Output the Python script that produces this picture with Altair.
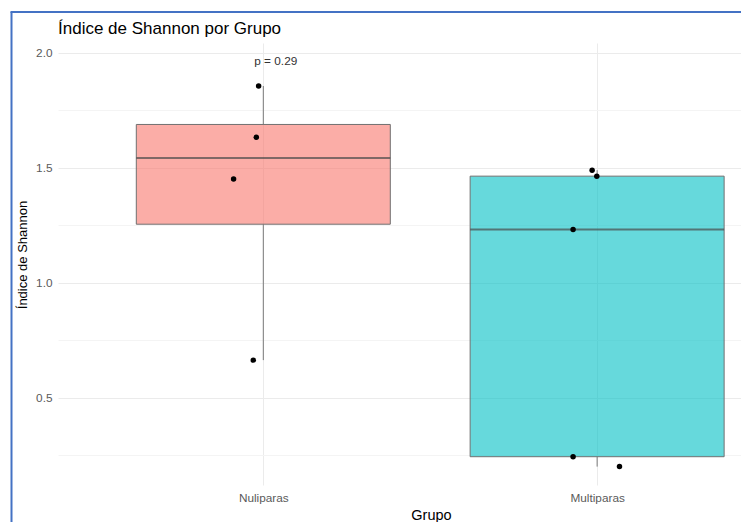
import altair as alt
import pandas as pd

# Shannon diversity per sample, by group
grupos = ["Nuliparas", "Multiparas"]
colores = ["#F8766D", "#00BFC4"]
grupo_muestra = ["Nuliparas"] * 4 + ["Multiparas"] * 5
shannon = [1.855, 1.632, 1.451, 0.663, 1.489, 1.463, 1.231, 0.243, 0.200]
desvio = [-0.014, -0.021, -0.089, -0.030, -0.015, -0.001, -0.072, -0.072, 0.067]
p_texto = ["p = 0.29"]
y_marcas = [0.25, 0.5, 0.75, 1.0, 1.25, 1.5, 1.75, 2.0]

FUENTE = "Liberation Sans"

df = pd.DataFrame({"grupo": grupo_muestra, "shannon": shannon, "desvio": desvio})
df["pos"] = df["grupo"].map({g: i + 1 for i, g in enumerate(grupos)})

x_scale = alt.Scale(domain=[0.4, 2.416], nice=False, zero=False)
y_scale = alt.Scale(domain=[0.12, 2.042], nice=False, zero=False)

x_axis = alt.Axis(
    values=[1, 2],
    labelExpr=f"['{grupos[0]}', '{grupos[1]}'][datum.value - 1]",
    grid=True, gridColor="#EBEBEB", gridWidth=1,
    domain=False, ticks=False, tickSize=0,
    labelPadding=16, labelBaseline="alphabetic", labelFontSize=11.8,
    labelColor="#5a5a5a", labelFont=FUENTE,
    title="Grupo", titleFontSize=14.5, titleFontWeight="normal", titleColor="#000000",
    titleFont=FUENTE, titleX=373, titleY=34.5, titleBaseline="alphabetic",
    titleAnchor="middle",
)
y_axis = alt.Axis(
    values=y_marcas,
    labelExpr="(datum.value * 4) % 2 == 1 ? '' : format(datum.value, '.1f')",
    grid=True,
    gridColor={"condition": {"test": "(datum.value * 4) % 2 == 1", "value": "#F4F4F4"},
               "value": "#EBEBEB"},
    gridWidth=1,
    domain=False, ticks=False, tickSize=0,
    labelPadding=6, labelFontSize=11.8, labelColor="#5a5a5a", labelFont=FUENTE,
    title="Índice de Shannon", titleFontSize=13, titleFontWeight="normal",
    titleColor="#000000", titleFont=FUENTE, titleX=-36, titleY=211.5,
    titleAlign="center", titleBaseline="middle", titleAngle=270,
)

cajas = alt.Chart(df).mark_boxplot(
    orient="vertical", size=254, extent=1.5,
    box={"fillOpacity": 0.6, "stroke": "#707070", "strokeWidth": 1},
    median={"color": "#4a4a4a", "thickness": 2},
    rule={"color": "#7a7a7a", "strokeWidth": 1},
    outliers=False, ticks=False,
).encode(
    x=alt.X("pos:Q", scale=x_scale, axis=x_axis),
    y=alt.Y("shannon:Q", scale=y_scale, axis=y_axis),
    color=alt.Color("grupo:N", scale=alt.Scale(domain=grupos, range=colores), legend=None),
)

puntos = alt.Chart(df).transform_calculate(
    xj="datum.pos + datum.desvio"
).mark_circle(size=30, color="#000000", opacity=1).encode(
    x=alt.X("xj:Q", scale=x_scale, axis=x_axis),
    y=alt.Y("shannon:Q", scale=y_scale, axis=y_axis),
)

etiqueta_p = alt.Chart(pd.DataFrame({"etiqueta": p_texto})).mark_text(
    align="left", baseline="middle", fontSize=11.8, color="#333333", font=FUENTE
).encode(
    x=alt.datum(0.973, scale=x_scale, axis=x_axis),
    y=alt.datum(1.965, scale=y_scale, axis=y_axis),
    text="etiqueta:N",
)

# blue frame around the figure
uno = pd.DataFrame({"k": [0]})
marco_izq = alt.Chart(uno).mark_rule(color="#4472C4", strokeWidth=2).encode(
    x=alt.value(-46.5), y=alt.value(-31), y2=alt.value(480)
)
marco_sup = alt.Chart(uno).mark_rule(color="#4472C4", strokeWidth=2).encode(
    x=alt.value(-47.5), x2=alt.value(690), y=alt.value(-31)
)

chart = alt.layer(cajas, puntos, etiqueta_p, marco_izq, marco_sup).properties(
    width=683,
    height=442,
    title=alt.TitleParams(
        "Índice de Shannon por Grupo", anchor="start", frame="group",
        fontSize=17, fontWeight="normal", font=FUENTE, color="#000000",
        baseline="alphabetic", offset=-39.8,
    ),
    autosize=alt.AutoSizeParams(type="none"),
    padding={"left": 58, "top": 43, "right": 0, "bottom": 37},
).configure(background="#ffffff").configure_view(strokeWidth=0, strokeOpacity=0)

chart.save("out.html", embed_options={"renderer": "svg", "actions": False})
